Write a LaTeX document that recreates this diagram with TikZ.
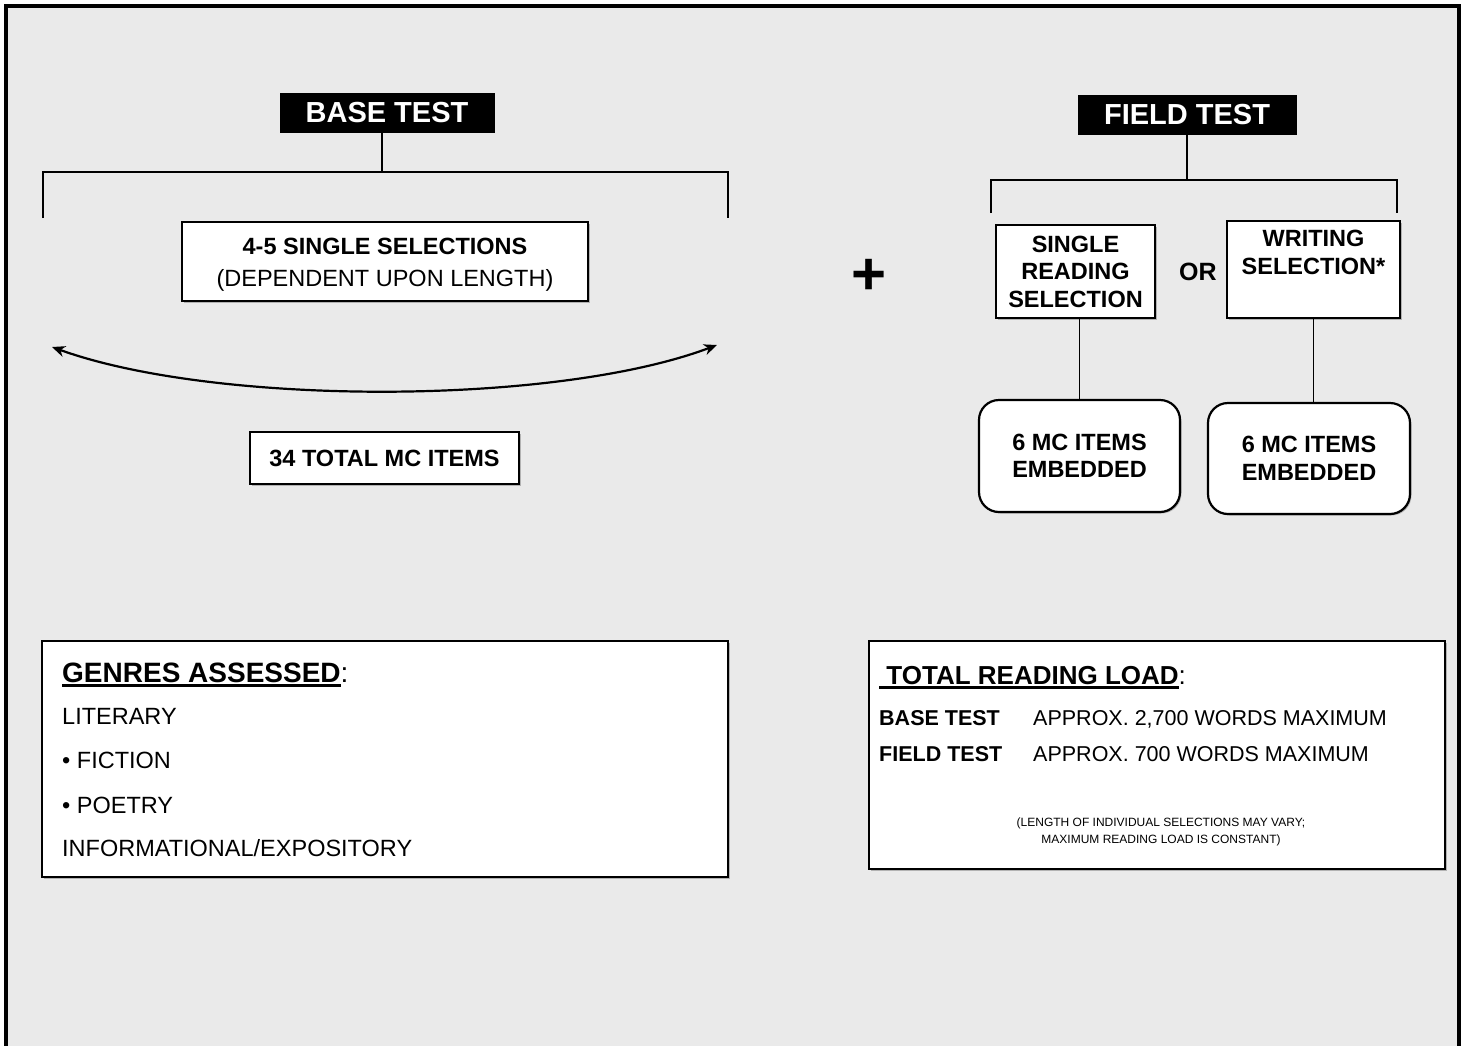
\documentclass[tikz,border=0pt]{standalone}
\usepackage{fontspec}
\setmainfont{Liberation Sans}
\usepackage{tikz}
\usetikzlibrary{positioning}
\usetikzlibrary{shapes,arrows.meta,shadows}
\definecolor{panelgray}{HTML}{EAEAEA}
\newsavebox{\headsave}
\newcommand{\ulhead}[1]{\sbox{\headsave}{#1}\rlap{\rule[-5pt]{\wd\headsave}{3.5pt}}\usebox{\headsave}}
\tikzstyle{headbox} = [fill=black, text=white, font=\bfseries\fontsize{29}{32}\selectfont, minimum height=40pt, inner sep=0pt]
\tikzstyle{plainbox} = [draw, line width=2pt, fill=white, align=center, inner sep=0pt, drop shadow={shadow xshift=1.5pt, shadow yshift=-1.5pt, fill=gray!60, opacity=1}]
\tikzstyle{roundbox} = [plainbox, rounded corners=20pt, line width=2.2pt]
\tikzstyle{boldtext} = [font=\bfseries\fontsize{23.5}{27.5}\selectfont, align=center, inner sep=0pt]
\tikzstyle{bodytext} = [font=\fontsize{23.5}{27}\selectfont, anchor=base west, inner sep=0pt]
\tikzstyle{loadtext} = [font=\fontsize{21.5}{25}\selectfont, anchor=base west, inner sep=0pt]
\tikzstyle{line} = [draw, line width=2pt]
\tikzstyle{line1} = [draw, line width=1.6pt]
\tikzstyle{arc} = [draw, line width=2.2pt, {Stealth[length=13pt,width=11pt,inset=4pt]}-{Stealth[length=13pt,width=11pt,inset=4pt]}]

\begin{document}
\begin{tikzpicture}[x=1pt, y=1pt, node distance=20pt]
	\useasboundingbox (0,0) rectangle (1468,-1045);
	\draw[line width=4pt, fill=panelgray] (6,-6) rectangle (1459,-1075);

	% base test side
	\node[headbox, minimum width=215pt] (basetest) at (387,-113) {BASE TEST};
	\coordinate (bl1) at (43,-218);
	\coordinate (bl2) at (43,-172);
	\coordinate (br2) at (728,-172);
	\coordinate (br1) at (728,-218);
	\path [line] (bl1) -- (bl2) -- (br2) -- (br1);
	\path [line] (basetest.south -| 382,0) -- (382,0 |- bl2);

	\node[plainbox, minimum width=406pt, minimum height=79pt] (singles) at (385,-261.5) {};
	\node[font=\fontsize{23.5}{32}\selectfont, align=center, inner sep=0pt] (singletext) at ([yshift=-3pt]singles.center) {\textbf{4-5 SINGLE SELECTIONS}\\(DEPENDENT UPON LENGTH)};

	\coordinate (arcL) at (52,-347);
	\coordinate (arcR) at (717,-345);
	\path [arc] (arcL) .. controls (215,-406) and (555,-406) .. (arcR);

	\node[plainbox, boldtext, minimum width=269pt, minimum height=52pt] (totalmc) at (384.5,-458) {34 TOTAL MC ITEMS};

	\node[font=\bfseries\fontsize{60}{60}\selectfont, inner sep=0pt] (plus) at (869,-277) {+};

	% field test side
	\node[headbox, minimum width=219pt] (fieldtest) at (1187,-115) {FIELD TEST};
	\coordinate (fl1) at (991,-213);
	\coordinate (fl2) at (991,-180);
	\coordinate (fr2) at (1397,-180);
	\coordinate (fr1) at (1397,-213);
	\path [line] (fl1) -- (fl2) -- (fr2) -- (fr1);
	\path [line] (fieldtest.south) -- (fieldtest.south |- fl2);

	\node[plainbox, boldtext, minimum width=159pt, minimum height=93pt] (readbox) at (1075.5,-271.5) {SINGLE\\READING\\SELECTION};
	\node[plainbox, minimum width=173pt, minimum height=97pt] (writebox) at (1313.5,-269.5) {};
	\node[boldtext, anchor=north] (writetext) at ([yshift=-10pt]writebox.north) {WRITING\\SELECTION*};
	\node[font=\bfseries\fontsize{25}{28}\selectfont, inner sep=0pt] (orlabel) [right=23pt of readbox] {OR};

	\node[roundbox, boldtext, minimum width=201pt, minimum height=112pt] (mcA) at (1079.5,-456) {6 MC ITEMS\\EMBEDDED};
	\node[roundbox, boldtext, minimum width=202pt, minimum height=111pt] (mcB) at (1309,-458.5) {6 MC ITEMS\\EMBEDDED};
	\path [line1] (readbox.south -| mcA) -- (mcA.north);
	\path [line1] (writebox.south) -- (writebox.south |- mcB.north);

	% genres box
	\node[plainbox, minimum width=686pt, minimum height=236pt] (genres) at (385,-759) {};
	\node[font=\fontsize{28}{32}\selectfont, anchor=base west, inner sep=0pt] (genhead) at (62,-682) {\ulhead{\textbf{GENRES ASSESSED}}:};
	\node[bodytext] (gen1) at (62,-724) {LITERARY};
	\node[bodytext] (gen2) at (62,-768) {\textbullet\ FICTION};
	\node[bodytext] (gen3) at (62,-813) {\textbullet\ POETRY};
	\node[bodytext] (gen4) at (62,-856) {INFORMATIONAL/EXPOSITORY};

	% reading load box
	\node[plainbox, minimum width=576pt, minimum height=228pt] (loadbox) at (1157,-755) {};
	\node[font=\fontsize{26}{30}\selectfont, anchor=base west, inner sep=0pt] (loadhead) at (879,-684) {\ulhead{\textbf{\ TOTAL READING LOAD}}:};
	\node[loadtext, font=\bfseries\fontsize{21.5}{25}\selectfont] (basename) at (879,-725) {BASE TEST};
	\node[loadtext] (baseload) at (1033,-725) {APPROX. 2,700 WORDS MAXIMUM};
	\node[loadtext, font=\bfseries\fontsize{21.5}{25}\selectfont] (fieldname) at (879,-761) {FIELD TEST};
	\node[loadtext] (fieldload) at (1033,-761) {APPROX. 700 WORDS MAXIMUM};
	\node[font=\fontsize{12}{17}\selectfont, align=center, inner sep=0pt] (loadnote) at (1161,-832) {(LENGTH OF INDIVIDUAL SELECTIONS MAY VARY;\\MAXIMUM READING LOAD IS CONSTANT)};
\end{tikzpicture}
\end{document}
